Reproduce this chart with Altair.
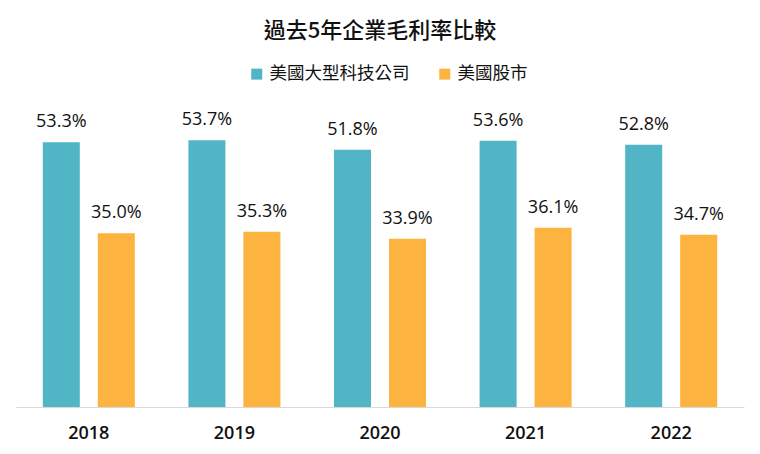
import altair as alt
import pandas as pd

years = ["2018", "2019", "2020", "2021", "2022"]
series_names = ["美國大型科技公司", "美國股市"]
tech_values = [53.3, 53.7, 51.8, 53.6, 52.8]
market_values = [35.0, 35.3, 33.9, 36.1, 34.7]
colors = ["#52B5C5", "#FDB33F"]

rows = []
for i, y in enumerate(years):
    rows.append({"year": y, "series": series_names[0], "value": tech_values[i]})
    rows.append({"year": y, "series": series_names[1], "value": market_values[i]})
df = pd.DataFrame(rows)

FONT = "Open Sans, Noto Sans CJK TC, sans-serif"
CJK = "Noto Sans CJK TC, sans-serif"

base = alt.Chart(df).transform_calculate(
    label="format(datum.value, '.1f') + '%'"
)

x_enc = alt.X("year:N", sort=years, title=None,
              scale=alt.Scale(paddingInner=0, paddingOuter=0),
              axis=alt.Axis(labelAngle=0, ticks=False, domainColor="#D9D9D9",
                            domainWidth=1, labelFont=FONT, labelFontSize=18,
                            labelFontWeight=600, labelColor="#111111",
                            labelPadding=17))
xoff = alt.XOffset("series:N", sort=series_names,
                   scale=alt.Scale(paddingInner=0.327, paddingOuter=0.487))
y_enc = alt.Y("value:Q", scale=alt.Scale(domain=[0, 60]), axis=None)

bars = base.mark_bar().encode(
    x=x_enc,
    xOffset=xoff,
    y=y_enc,
    color=alt.Color("series:N", sort=series_names,
                    scale=alt.Scale(domain=series_names, range=colors),
                    legend=alt.Legend(title=None, orient="none", direction="horizontal",
                                      legendX=232, legendY=-44,
                                      symbolType="square", symbolSize=121,
                                      symbolStrokeWidth=0, labelOffset=4,
                                      labelFont=CJK, labelFontSize=17.5,
                                      labelColor="#111111", columnPadding=26)),
)

text = base.mark_text(dy=-20, fontSize=18, font=FONT, color="#111111").encode(
    x=alt.X("year:N", sort=years),
    xOffset=alt.XOffset("series:N", sort=series_names),
    y=alt.Y("value:Q"),
    text="label:N",
)

chart = alt.layer(bars, text).properties(
    width=728,
    height=298,
    title=alt.TitleParams("過去5年企業毛利率比較", font=CJK, fontSize=22,
                          fontWeight=500, color="#111111", anchor="middle",
                          offset=22),
    autosize=alt.AutoSizeParams(type="none"),
    padding={"left": 8, "top": 101, "right": 8, "bottom": 39},
).configure_view(stroke=None).configure_axis(grid=False)

chart.save("out.html", embed_options={"renderer": "svg", "actions": False})
